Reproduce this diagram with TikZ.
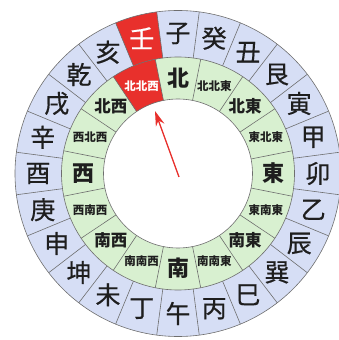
\documentclass[tikz,border=0pt]{standalone}
\usepackage{fontspec}
\newfontfamily\jp{Noto Sans CJK JP}
\newfontfamily\jpheavy{Noto Sans CJK JP}[FakeBold=0.5]
\usetikzlibrary{calc,arrows.meta}
\definecolor{ringblue}{RGB}{214,222,245}
\definecolor{ringgreen}{RGB}{216,240,208}
\definecolor{hired}{RGB}{232,48,44}
\definecolor{edgegray}{RGB}{110,110,110}
\definecolor{inkdark}{RGB}{30,30,30}
\tikzset{
  branch/.style={font=\jpheavy\fontsize{25}{25}\selectfont, text=inkdark, inner sep=0pt},
  cardinal/.style={font=\jp\bfseries\fontsize{22}{22}\selectfont, text=inkdark, inner sep=0pt},
  twodir/.style={font=\jp\bfseries\fontsize{16.5}{16.5}\selectfont, text=inkdark, inner sep=0pt},
  threedir/.style={font=\jp\bfseries\fontsize{11.5}{11.5}\selectfont, text=inkdark, inner sep=0pt},
  divider/.style={draw=edgegray, line width=0.6pt},
  pointer/.style={draw=hired, line width=1.3pt, -{Stealth[length=15pt,width=9pt]}},
}
\begin{document}
\begin{tikzpicture}[x=1pt,y=1pt]
\useasboundingbox (0,0) rectangle (339,340);
\coordinate (C) at (178,166.5);
\def\Rin{74.5}
\def\Rmid{116.5}
\def\Rout{163}
% rings
\fill[ringblue] (C) circle[radius=\Rout];
\fill[ringgreen] (C) circle[radius=\Rmid];
\fill[white] (C) circle[radius=\Rin];
% highlighted sectors
\fill[hired] ($(C)+(97.5:\Rmid)$) arc[start angle=97.5,end angle=112.5,radius=\Rmid]
  -- ($(C)+(112.5:\Rout)$) arc[start angle=112.5,end angle=97.5,radius=\Rout] -- cycle;
\fill[hired] ($(C)+(101.25:\Rin)$) arc[start angle=101.25,end angle=123.75,radius=\Rin]
  -- ($(C)+(123.75:\Rmid)$) arc[start angle=123.75,end angle=101.25,radius=\Rmid] -- cycle;
% dividers
\foreach \a in {0,...,23}
  \draw[divider] ($(C)+(97.5+15*\a:\Rmid)$) -- ($(C)+(97.5+15*\a:\Rout)$);
\foreach \a in {0,...,15}
  \draw[divider] ($(C)+(11.25+22.5*\a:\Rin)$) -- ($(C)+(11.25+22.5*\a:\Rmid)$);
\draw[divider] (C) circle[radius=\Rout];
\draw[divider] (C) circle[radius=\Rmid];
\draw[divider] (C) circle[radius=\Rin];
% outer ring: 24 mountains
\foreach \t [count=\k from 0] in {子,癸,丑,艮,寅,甲,卯,乙,辰,巽,巳,丙,午,丁,未,坤,申,庚,酉,辛,戌,乾,亥}
  \node[branch] (o\k) at ($(C)+(90-15*\k:140)$) {\t};
\node[branch, text=white] (o23) at ($(C)+(105:140)$) {壬};
% inner ring: 16 directions
\node[cardinal] (north) at ($(C)+(90:95)$) {北};
\node[cardinal] (east) at ($(C)+(0:95)$) {東};
\node[cardinal] (south) at ($(C)+(-90:95)$) {南};
\node[cardinal] (west) at ($(C)+(180:95)$) {西};
\node[twodir] (ne) at ($(C)+(45:95)$) {北東};
\node[twodir] (se) at ($(C)+(-45:95)$) {南東};
\node[twodir] (sw) at ($(C)+(-135:95)$) {南西};
\node[twodir] (nw) at ($(C)+(135:95)$) {北西};
\node[threedir] (nne) at ($(C)+(67.5:95)$) {北北東};
\node[threedir] (ene) at ($(C)+(22.5:95)$) {東北東};
\node[threedir] (ese) at ($(C)+(-22.5:95)$) {東南東};
\node[threedir] (sse) at ($(C)+(-67.5:95)$) {南南東};
\node[threedir] (ssw) at ($(C)+(-112.5:95)$) {南南西};
\node[threedir] (wsw) at ($(C)+(-157.5:95)$) {西南西};
\node[threedir] (wnw) at ($(C)+(157.5:95)$) {西北西};
\node[threedir, text=white] (nnw) at ($(C)+(112.5:95)$) {北北西};
% pointer
\coordinate (tail) at (179,163);
\coordinate (tip) at (155,229);
\draw[pointer] (tail) -- (tip);
\end{tikzpicture}
\end{document}
